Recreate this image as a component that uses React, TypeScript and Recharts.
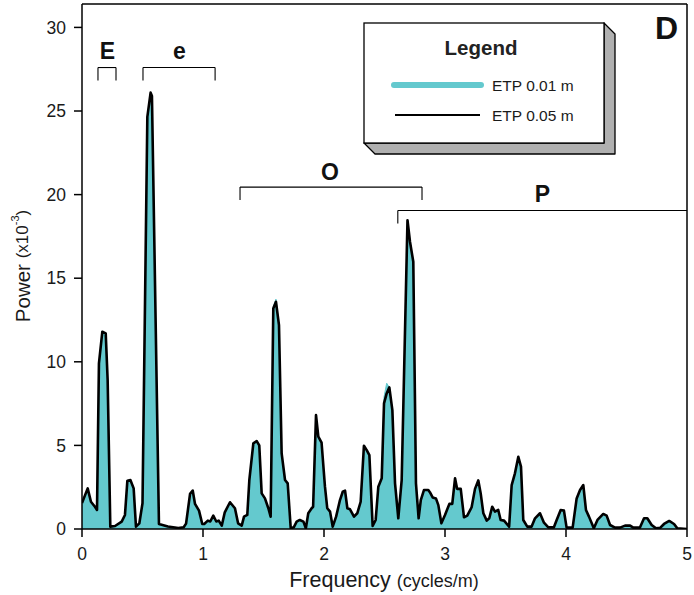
import { ComposedChart, Area, Line, XAxis, YAxis, ReferenceLine } from "recharts";

// spectrum vertices (frequency in cycles/m, power x10^-3)
const frequency = [
  0, 0.047, 0.074, 0.107, 0.124, 0.14, 0.168, 0.196, 0.212, 0.234, 0.273, 0.328, 0.355, 0.375, 0.4,
  0.427, 0.446, 0.474, 0.5, 0.54, 0.567, 0.578, 0.636, 0.71, 0.796, 0.84, 0.86, 0.893, 0.915, 0.934,
  0.967, 0.994, 1.01, 1.04, 1.06, 1.085, 1.11, 1.13, 1.155, 1.18, 1.223, 1.264, 1.29, 1.32, 1.339,
  1.366, 1.383, 1.416, 1.444, 1.465, 1.485, 1.512, 1.54, 1.559, 1.581, 1.603, 1.628, 1.65, 1.678,
  1.7, 1.725, 1.75, 1.774, 1.8, 1.83, 1.85, 1.87, 1.898, 1.91, 1.934, 1.953, 1.98, 2.008, 2.027,
  2.05, 2.072, 2.1, 2.132, 2.155, 2.174, 2.193, 2.215, 2.248, 2.275, 2.303, 2.33, 2.353, 2.375,
  2.402, 2.427, 2.449, 2.477, 2.496, 2.518, 2.54, 2.565, 2.587, 2.614, 2.642, 2.69, 2.711, 2.738,
  2.76, 2.782, 2.8, 2.826, 2.862, 2.875, 2.898, 2.925, 2.945, 2.97, 3.0, 3.036, 3.06, 3.083, 3.1,
  3.13, 3.157, 3.184, 3.22, 3.248, 3.275, 3.295, 3.317, 3.345, 3.366, 3.39, 3.413, 3.44, 3.46,
  3.488, 3.53, 3.551, 3.578, 3.606, 3.628, 3.647, 3.68, 3.715, 3.744, 3.785, 3.818, 3.854, 3.9,
  3.923, 3.956, 3.983, 4.005, 4.055, 4.088, 4.116, 4.143, 4.165, 4.19, 4.23, 4.26, 4.308, 4.336,
  4.364, 4.405, 4.446, 4.488, 4.53, 4.556, 4.61, 4.645, 4.672, 4.708, 4.744, 4.78, 4.81, 4.853,
  4.893, 4.92, 5.0,
];

const powerEtp005 = [
  1.55, 2.43, 1.63, 1.33, 1.14, 9.9, 11.8, 11.7, 8.9, 0.14, 0.18, 0.44, 0.84, 2.89, 2.93,
  2.43, 0.14, 0.34, 1.54, 24.65, 26.1, 25.9, 0.3, 0.15, 0.06, 0.1, 0.32, 2.1, 2.3, 1.5,
  1.1, 0.3, 0.3, 0.5, 0.45, 0.8, 0.45, 0.5, 0.2, 1.0, 1.6, 1.24, 0.34, 0.2, 0.74,
  0.84, 2.93, 5.12, 5.26, 5.0, 2.13, 1.83, 1.24, 0.74, 13.19, 13.59, 12.19, 4.52, 2.93,
  2.73, 0.04, 0.1, 0.44, 0.54, 0.44, 0.04, 0.94, 1.24, 1.33, 6.81, 5.52, 5.16, 2.53, 1.24,
  1.04, 0.14, 0.74, 1.73, 2.23, 2.29, 1.24, 1.18, 0.74, 0.94, 1.63, 4.98, 4.72, 4.42,
  0.18, 0.54, 2.53, 3.03, 7.51, 8.11, 8.47, 7.11, 2.73, 0.64, 2.93, 18.47, 17.17, 15.98,
  2.73, 0.64, 1.73, 2.33, 2.33, 2.2, 1.89, 1.83, 1.43, 0.34, 0.84, 1.5, 1.5, 3.03, 2.4,
  2.4, 0.7, 0.8, 1.3, 2.4, 2.91, 2.13, 0.94, 0.5, 0.64, 1.33, 1.04, 1.14, 0.54,
  0.5, 0.14, 2.63, 3.33, 4.32, 3.73, 0.54, 0.14, 0.14, 0.64, 0.94, 0.38, 0.1, 0.1,
  0.54, 1.14, 1.1, 0.08, 0.08, 1.83, 2.33, 2.63, 1.14, 0.74, 0.04, 0.54, 0.9, 0.8,
  0.24, 0.08, 0.08, 0.2, 0.2, 0.08, 0.08, 0.64, 0.64, 0.24, 0.04, 0.08, 0.3, 0.48,
  0.3, 0.04, 0,
];

const powerEtp001 = [
  1.55, 2.43, 1.63, 1.33, 1.14, 9.9, 11.8, 11.7, 8.9, 0.14, 0.18, 0.44, 0.84, 2.89, 2.93,
  2.43, 0.14, 0.34, 1.54, 24.65, 26.1, 25.9, 0.3, 0.15, 0.06, 0.1, 0.32, 2.1, 2.3, 1.5,
  1.1, 0.3, 0.3, 0.5, 0.45, 0.8, 0.45, 0.5, 0.2, 1.0, 1.6, 1.24, 0.34, 0.2, 0.74,
  0.84, 2.93, 5.12, 5.26, 5.0, 2.13, 1.83, 1.24, 0.74, 13.3, 13.75, 12.19, 4.52, 2.93,
  2.73, 0.04, 0.1, 0.44, 0.54, 0.44, 0.04, 0.94, 1.24, 1.33, 6.81, 5.52, 5.16, 2.53, 1.24,
  1.04, 0.14, 0.74, 1.73, 2.23, 2.29, 1.24, 1.18, 0.74, 0.94, 1.63, 4.98, 4.72, 4.42,
  0.18, 0.54, 2.53, 3.03, 7.9, 8.72, 8.47, 7.11, 2.73, 0.64, 2.93, 18.47, 17.17, 15.98,
  2.73, 0.64, 1.73, 2.33, 2.33, 2.2, 1.89, 1.83, 1.43, 0.34, 0.84, 1.5, 1.5, 3.03, 2.4,
  2.4, 0.7, 0.8, 1.3, 2.4, 2.91, 2.13, 0.94, 0.5, 0.64, 1.33, 1.04, 1.14, 0.54,
  0.5, 0.14, 2.63, 3.33, 4.32, 3.73, 0.54, 0.14, 0.14, 0.64, 0.94, 0.38, 0.1, 0.1,
  0.54, 1.14, 1.1, 0.08, 0.08, 1.83, 2.33, 2.63, 1.14, 0.74, 0.04, 0.54, 0.9, 0.8,
  0.24, 0.08, 0.08, 0.2, 0.2, 0.08, 0.08, 0.64, 0.64, 0.24, 0.04, 0.08, 0.3, 0.48,
  0.3, 0.04, 0,
];

const xTicks = [0, 1, 2, 3, 4, 5];
const yTicks = [0, 5, 10, 15, 20, 25, 30];

// orbital bands: E eccentricity (long), e eccentricity, O obliquity, P precession
const bandNames = ["E", "e", "O", "P"];
const bandFrom = [0.132, 0.504, 1.306, 2.61];
const bandTo = [0.281, 1.1, 2.81, 5.0];
const bandLevel = [27.6, 27.6, 20.45, 19.05];

const TEAL = "#64C9CE";
const FONT = "'Liberation Sans', Arial, Helvetica, sans-serif";
const Y_MAX = 31.4;

const data = frequency.map((f, i) => ({
  f,
  p1: powerEtp001[i],
  p5: powerEtp005[i],
}));

function PowerLabel() {
  return (
    <text
      transform="rotate(-90 22 266)"
      x={22}
      y={266}
      textAnchor="middle"
      dominantBaseline="central"
      fill="#1a1a1a"
      fontFamily={FONT}
    >
      <tspan fontSize={20.5}>Power </tspan>
      <tspan fontSize={17}>(x10</tspan>
      <tspan fontSize={11} dy={-7}>-3</tspan>
      <tspan fontSize={17} dy={7}>)</tspan>
    </text>
  );
}

function FreqLabel() {
  return (
    <text x={384} y={587} textAnchor="middle" fill="#1a1a1a" fontFamily={FONT}>
      <tspan fontSize={21.5}>Frequency </tspan>
      <tspan fontSize={18}>(cycles/m)</tspan>
    </text>
  );
}

export default function App() {
  const tickStyle = { fontSize: 17.5, fill: "#1a1a1a", fontFamily: FONT };
  return (
    <div style={{ position: "absolute", left: 0, top: 0, width: 694, height: 595, background: "#fff" }}>
      <ComposedChart
        width={694}
        height={595}
        data={data}
        margin={{ top: 4, right: 7, bottom: 0, left: 0 }}
      >
        <XAxis
          dataKey="f"
          type="number"
          domain={[0, 5]}
          ticks={xTicks}
          allowDataOverflow
          height={66}
          tickSize={8}
          tickMargin={11}
          axisLine={{ stroke: "#000", strokeWidth: 1.5 }}
          tickLine={{ stroke: "#000", strokeWidth: 1.5 }}
          tick={tickStyle}
        />
        <YAxis
          type="number"
          domain={[0, Y_MAX]}
          ticks={yTicks}
          allowDataOverflow
          width={82}
          tickSize={8}
          tickMargin={8}
          axisLine={{ stroke: "#000", strokeWidth: 1.5 }}
          tickLine={{ stroke: "#000", strokeWidth: 1.5 }}
          tick={tickStyle}
        />
        <Area
          type="linear"
          dataKey="p1"
          stroke={TEAL}
          strokeWidth={1}
          fill={TEAL}
          fillOpacity={1}
          dot={false}
          activeDot={false}
          isAnimationActive={false}
        />
        <Line
          type="linear"
          dataKey="p5"
          stroke="#000"
          strokeWidth={2.6}
          strokeLinejoin="round"
          dot={false}
          activeDot={false}
          isAnimationActive={false}
        />
        <ReferenceLine y={Y_MAX} stroke="#000" strokeWidth={1.5} />
        <ReferenceLine x={5} stroke="#000" strokeWidth={1.5} />
        {bandNames.map((name, i) => (
          <ReferenceLine
            key={name + "-top"}
            segment={[
              { x: bandFrom[i], y: bandLevel[i] },
              { x: bandTo[i], y: bandLevel[i] },
            ]}
            stroke="#000"
            strokeWidth={1.1}
          />
        ))}
        {bandNames.map((name, i) => (
          <ReferenceLine
            key={name + "-l"}
            segment={[
              { x: bandFrom[i], y: bandLevel[i] },
              { x: bandFrom[i], y: bandLevel[i] - 0.78 },
            ]}
            stroke="#000"
            strokeWidth={1.1}
          />
        ))}
        {bandNames
          .filter((n) => n !== "P")
          .map((name, i) => (
            <ReferenceLine
              key={name + "-r"}
              segment={[
                { x: bandTo[i], y: bandLevel[i] },
                { x: bandTo[i], y: bandLevel[i] - 0.78 },
              ]}
              stroke="#000"
              strokeWidth={1.1}
            />
          ))}
      </ComposedChart>
      <svg
        width={694}
        height={595}
        style={{ position: "absolute", left: 0, top: 0, pointerEvents: "none" }}
      >
        <PowerLabel />
        <FreqLabel />
        <g fontFamily={FONT} fill="#111" textAnchor="middle" fontWeight={700}>
          <text x={107.5} y={58.5} fontSize={23}>E</text>
          <text x={179.5} y={59} fontSize={23}>e</text>
          <text x={330} y={179.5} fontSize={23}>O</text>
          <text x={542.5} y={201.5} fontSize={23}>P</text>
          <text x={666.5} y={38.5} fontSize={32}>D</text>
        </g>
        <polygon
          points="604,23 615,34 615,154 375,154 364,143 604,143"
          fill="#b0b0b0"
          stroke="#000"
          strokeWidth={1.3}
          strokeLinejoin="round"
        />
        <rect x={364} y={23} width={240} height={120} fill="#fff" stroke="#000" strokeWidth={1.3} />
        <text x={481} y={54.5} textAnchor="middle" fontFamily={FONT} fontSize={20.5} fontWeight={700} fill="#222">
          Legend
        </text>
        <line x1={394} y1={85} x2={481} y2={85} stroke={TEAL} strokeWidth={6} strokeLinecap="round" />
        <line x1={395} y1={115} x2={480} y2={115} stroke="#000" strokeWidth={2} />
        <text x={492} y={90.5} fontFamily={FONT} fontSize={15.5} fill="#1a1a1a">ETP 0.01 m</text>
        <text x={492} y={120.5} fontFamily={FONT} fontSize={15.5} fill="#1a1a1a">ETP 0.05 m</text>
      </svg>
    </div>
  );
}
